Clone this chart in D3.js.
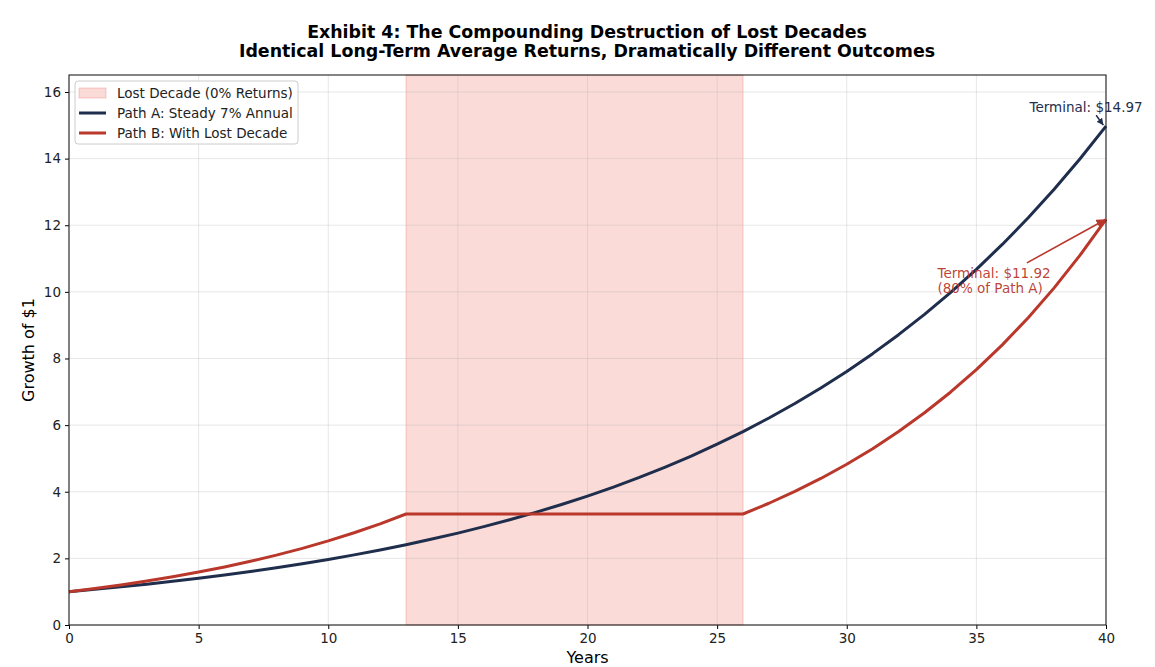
<!DOCTYPE html>
<html>
<head>
<meta charset="utf-8">
<script src="https://cdn.jsdelivr.net/npm/d3@7"></script>
<style>
  body { margin: 0; background: #fff; }
  svg text { font-family: "DejaVu Sans", sans-serif; }
</style>
</head>
<body>
<svg id="chart" width="1155" height="667"></svg>
<script>
// years on the x axis
const years = d3.range(0, 41);

// Path A: steady 7% a year
const pathA = [1.000, 1.070, 1.145, 1.225, 1.311, 1.403, 1.501, 1.606, 1.718, 1.838,
  1.967, 2.105, 2.252, 2.410, 2.579, 2.759, 2.952, 3.159, 3.380, 3.617,
  3.870, 4.141, 4.430, 4.741, 5.072, 5.427, 5.807, 6.214, 6.649, 7.114,
  7.612, 8.145, 8.715, 9.325, 9.978, 10.677, 11.424, 12.224, 13.079, 13.995, 14.974];

// Path B: higher growth, then a flat stretch, then growth again
const pathB = [1.000, 1.097, 1.203, 1.320, 1.448, 1.589, 1.743, 1.912, 2.097, 2.301,
  2.524, 2.769, 3.037, 3.332, 3.332, 3.332, 3.332, 3.332, 3.332, 3.332,
  3.332, 3.332, 3.332, 3.332, 3.332, 3.332, 3.332, 3.655, 4.010, 4.399,
  4.825, 5.293, 5.807, 6.370, 6.988, 7.666, 8.409, 9.225, 10.120, 11.101, 12.178];

// figures quoted in the annotations
const terminalA = 14.97;
const terminalB = 11.92;
const shareOfA = 80;

const lostDecade = [13, 26];
const xTicks = [0, 5, 10, 15, 20, 25, 30, 35, 40];
const yTicks = [0, 2, 4, 6, 8, 10, 12, 14, 16];

const navy = "#1f2e4c";
const red = "#b9382b";

const margin = { top: 75, right: 49, bottom: 42, left: 69 };
const width = 1155 - margin.left - margin.right;
const height = 667 - margin.top - margin.bottom;

const svg = d3.select("#chart");

// titles
svg.append("text")
  .attr("x", 587).attr("y", 38)
  .attr("text-anchor", "middle")
  .style("font-size", "17.4px").style("font-weight", "bold")
  .text("Exhibit 4: The Compounding Destruction of Lost Decades");
svg.append("text")
  .attr("x", 587).attr("y", 57)
  .attr("text-anchor", "middle")
  .style("font-size", "17.4px").style("font-weight", "bold")
  .text("Identical Long-Term Average Returns, Dramatically Different Outcomes");

const g = svg.append("g")
  .attr("transform", "translate(" + margin.left + "," + margin.top + ")");

const x = d3.scaleLinear().domain([0, 40]).range([0, width]);
const y = d3.scaleLinear().domain([0, 16.51]).range([height, 0]);

// shaded lost decade
g.append("rect")
  .attr("x", x(lostDecade[0]))
  .attr("y", 0)
  .attr("width", x(lostDecade[1]) - x(lostDecade[0]))
  .attr("height", height)
  .attr("fill", "#e74c3c").attr("fill-opacity", 0.2)
  .attr("stroke", "#e74c3c").attr("stroke-opacity", 0.25);

// grid
g.append("g").selectAll("line").data(xTicks).enter().append("line")
  .attr("x1", d => x(d)).attr("x2", d => x(d))
  .attr("y1", 0).attr("y2", height)
  .attr("stroke", "#b0b0b0").attr("stroke-opacity", 0.3);
g.append("g").selectAll("line").data(yTicks).enter().append("line")
  .attr("x1", 0).attr("x2", width)
  .attr("y1", d => y(d)).attr("y2", d => y(d))
  .attr("stroke", "#b0b0b0").attr("stroke-opacity", 0.3);

const line = d3.line()
  .x((d, i) => x(years[i]))
  .y(d => y(d));

g.append("path").datum(pathA)
  .attr("d", line).attr("fill", "none")
  .attr("stroke", navy).attr("stroke-width", 3)
  .attr("stroke-linejoin", "round");
g.append("path").datum(pathB)
  .attr("d", line).attr("fill", "none")
  .attr("stroke", red).attr("stroke-width", 3)
  .attr("stroke-linejoin", "round");

// axes
const xAxis = g.append("g")
  .attr("transform", "translate(0," + height + ")")
  .call(d3.axisBottom(x).tickValues(xTicks).tickSize(4).tickPadding(4));
const yAxis = g.append("g")
  .call(d3.axisLeft(y).tickValues(yTicks).tickSize(4).tickPadding(4));
[xAxis, yAxis].forEach(a => {
  a.selectAll("text").style("font-size", "13.5px").attr("fill", "#222");
  a.select(".domain").remove();
});

// frame
g.append("rect")
  .attr("width", width).attr("height", height)
  .attr("fill", "none").attr("stroke", "#222").attr("stroke-width", 1.1);

// axis titles
g.append("text")
  .attr("x", width / 2).attr("y", height + 38)
  .attr("text-anchor", "middle").style("font-size", "16px")
  .text("Years");
g.append("text")
  .attr("transform", "rotate(-90)")
  .attr("x", -height / 2).attr("y", -35)
  .attr("text-anchor", "middle").style("font-size", "16px")
  .text("Growth of $1");

// arrow heads
const defs = svg.append("defs");
[["headA", navy, 4.5], ["headB", red, 6]].forEach(([id, c, s]) => {
  defs.append("marker")
    .attr("id", id).attr("viewBox", "0 0 10 10")
    .attr("refX", 10).attr("refY", 5)
    .attr("markerWidth", s).attr("markerHeight", s)
    .attr("orient", "auto")
    .attr("markerUnits", "strokeWidth")
    .append("path").attr("d", "M0,0 L10,5 L0,10 z").attr("fill", c);
});

// annotations
const endB = pathB[pathB.length - 1];
const endA = pathA[pathA.length - 1];
g.append("line")
  .attr("x1", x(39.62)).attr("y1", y(15.3))
  .attr("x2", x(39.9)).attr("y2", y(endA) - 1)
  .attr("stroke", navy).attr("stroke-width", 1.5)
  .attr("marker-end", "url(#headA)");
g.append("text")
  .attr("x", x(37.05)).attr("y", y(15.4))
  .style("font-size", "13.5px").attr("fill", navy)
  .text("Terminal: $" + terminalA.toFixed(2));

g.append("line")
  .attr("x1", x(36.95)).attr("y1", y(10.87))
  .attr("x2", x(40)).attr("y2", y(endB))
  .attr("stroke", red).attr("stroke-width", 1.6)
  .attr("marker-end", "url(#headB)");
const tB = g.append("text")
  .attr("x", x(33.5)).attr("y", y(10.42))
  .style("font-size", "13.5px").attr("fill", red).attr("fill-opacity", 0.95);
tB.append("tspan").text("Terminal: $" + terminalB.toFixed(2));
tB.append("tspan").attr("x", x(33.5)).attr("dy", 15)
  .text("(" + shareOfA + "% of Path A)");

// legend
const lg = g.append("g").attr("transform", "translate(6,6)");
lg.append("rect")
  .attr("width", 223).attr("height", 63).attr("rx", 3)
  .attr("fill", "#fff").attr("fill-opacity", 0.85)
  .attr("stroke", "#ccc");
const items = [
  { label: "Lost Decade (0% Returns)", type: "patch" },
  { label: "Path A: Steady 7% Annual", color: navy },
  { label: "Path B: With Lost Decade", color: red }
];
items.forEach((it, i) => {
  const yy = 12 + i * 20;
  if (it.type === "patch") {
    lg.append("rect").attr("x", 4).attr("y", yy - 5).attr("width", 27).attr("height", 10)
      .attr("fill", "#e74c3c").attr("fill-opacity", 0.2)
      .attr("stroke", "#e74c3c").attr("stroke-opacity", 0.25);
  } else {
    lg.append("line").attr("x1", 4).attr("x2", 31).attr("y1", yy).attr("y2", yy)
      .attr("stroke", it.color).attr("stroke-width", 3);
  }
  lg.append("text").attr("x", 42).attr("y", yy + 5)
    .style("font-size", "13.5px").attr("fill", "#222").text(it.label);
});
</script>
</body>
</html>
